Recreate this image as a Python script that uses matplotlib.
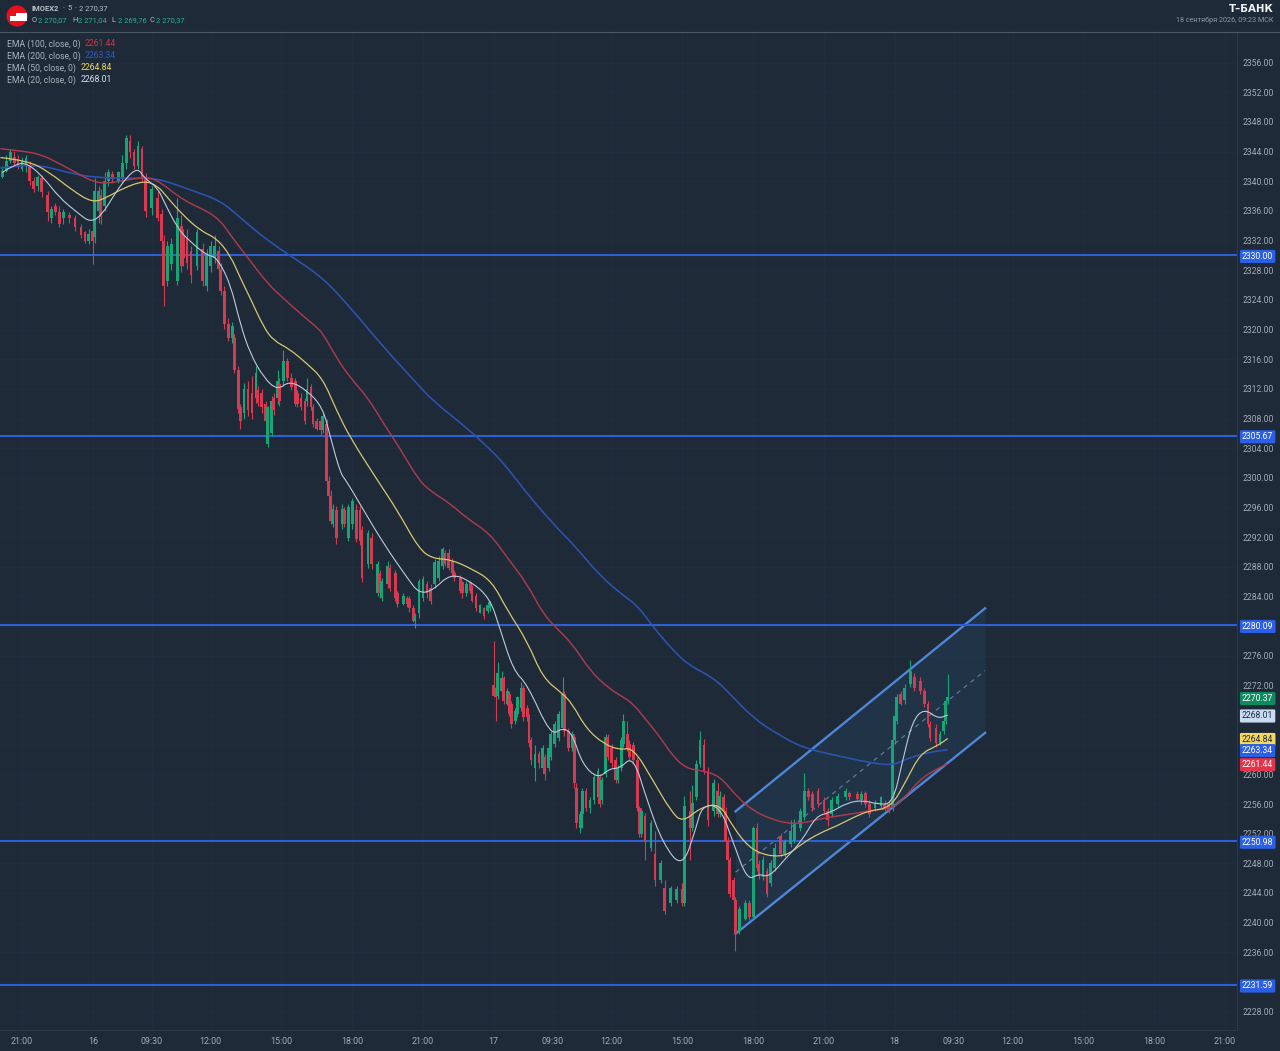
import matplotlib
matplotlib.use("Agg")
import matplotlib.pyplot as plt
from matplotlib.patches import Circle, Polygon, PathPatch
from matplotlib.path import Path

plt.rcParams['font.family'] = ['Roboto', 'DejaVu Sans']

# ---------- data ----------
bar = [-10,-8,-6,-4,-2,0,2,4,6,8,
10,13,15,17,19,21,24,27,30,32,
34,36,37,39,40,42,44,46,49,51,
53,55,57,59,61,63,66,69,71,72,
74,76,79,81,82,84,86,89,92,94,
96,98,100,101,103,105,107,108,110,111,
113,115,117,119,120,122,124,125,127,128,
130,131,133,135,137,139,140,142,144,145,
147,148,150,152,153,155,156,157,158,160,
163,164,166,168,170,172,173,176,178,181,
182,183,186,187,190,191,194,196,197,199,
200,202,204,206,208,210,212,214,215,217,
219,220,223,224,226,228,229,231,233,235,
237,238,240,241,242,244,245,247,248,249,
251,252,254,255,257,258,259,261,263,265,
266,268,269,271,273,275,276,278,280,281,
282,284,285,287,289,291,293,294,295,297,
298,300,302,303,305,306,308,309,311,313,
314,315,317,320,322,325,327,330,333,336,
337,340,341,343,345,347,349,352,354,355,
357,358,359,360,362,363,365,368,370,372,
374,375,377,379,381,383,386,388,391,393,
396,398,400,402,405,408,410,412,415,419,
421,425,427,429,431,434,437,439,441,443,
444,445,447,449,452,454,457,459,461,462,
465,467,469,470,471]

opens = [2340.6,2341.4,2342.8,2343.3,2343.0,2341.7,2342.1,2342.1,2340.1,2339.3,
2340.4,2338.1,2335.0,2336.7,2335.8,2335.0,2335.5,2335.0,2333.9,2333.1,
2332.0,2333.3,2332.5,2336.0,2338.1,2336.6,2340.1,2341.0,2340.1,2340.3,
2342.4,2345.5,2343.9,2342.1,2344.4,2340.6,2336.4,2337.8,2335.6,2332.0,
2326.6,2328.9,2326.6,2334.0,2332.7,2332.3,2330.6,2328.6,2330.9,2325.9,
2328.6,2329.6,2330.6,2328.2,2325.2,2320.8,2318.8,2318.9,2314.5,2309.5,
2308.8,2312.0,2311.4,2310.7,2311.8,2311.4,2310.0,2304.6,2306.0,2310.8,
2310.8,2312.7,2313.1,2315.8,2313.5,2313.1,2311.4,2310.8,2310.4,2310.4,
2312.2,2309.5,2307.7,2307.7,2306.4,2307.3,2299.6,2297.6,2293.8,2295.6,
2293.8,2295.6,2291.9,2293.8,2295.6,2295.6,2292.9,2288.4,2291.9,2284.5,
2287.1,2283.8,2285.7,2287.9,2287.1,2284.4,2283.0,2283.8,2283.7,2282.5,
2280.7,2281.7,2283.8,2285.7,2285.2,2285.7,2286.5,2288.1,2289.8,2289.9,
2288.8,2287.2,2286.5,2285.9,2284.5,2285.9,2285.2,2284.1,2281.8,2282.4,
2282.1,2282.4,2272.0,2271.7,2270.6,2271.3,2273.0,2269.5,2270.9,2269.5,
2267.2,2268.2,2269.0,2271.7,2269.0,2267.7,2264.6,2260.9,2262.8,2260.9,
2262.3,2260.9,2262.3,2264.1,2264.9,2266.3,2270.9,2265.9,2263.6,2265.0,
2258.2,2252.8,2254.7,2257.8,2255.5,2256.5,2256.9,2259.6,2256.5,2260.1,
2265.0,2263.6,2261.9,2259.2,2260.9,2264.1,2265.5,2264.1,2263.9,2261.9,
2255.5,2252.0,2254.4,2250.1,2249.3,2245.7,2244.7,2242.6,2243.0,2244.6,
2242.6,2255.1,2252.8,2256.9,2261.4,2263.9,2260.5,2255.1,2257.8,2254.7,
2256.9,2255.1,2251.0,2248.4,2245.7,2243.0,2238.9,2240.5,2242.6,2240.7,
2252.8,2247.9,2246.1,2247.0,2245.3,2247.4,2251.7,2249.3,2250.6,2251.0,
2252.8,2254.2,2257.8,2257.4,2257.8,2256.5,2255.1,2254.7,2256.0,2256.9,
2257.5,2257.4,2256.5,2257.5,2256.0,2255.4,2255.8,2256.0,2256.0,2255.5,
2264.6,2267.2,2270.9,2270.0,2272.2,2273.1,2272.6,2271.3,2269.5,2266.8,
2266.3,2264.2,2265.9,2267.2,2269.9]

closes = [2341.4,2342.8,2343.9,2342.5,2342.0,2342.8,2343.2,2340.1,2339.0,2340.6,
2338.5,2335.8,2336.3,2335.8,2334.2,2335.8,2335.0,2333.9,2332.7,2332.0,
2332.9,2332.0,2338.7,2338.7,2335.2,2340.1,2341.2,2340.3,2341.2,2342.4,
2345.9,2343.9,2342.1,2344.8,2340.6,2336.0,2339.0,2335.1,2332.0,2325.9,
2331.3,2331.6,2335.0,2328.6,2329.6,2329.0,2327.3,2333.1,2326.6,2330.2,
2331.3,2331.3,2328.2,2325.2,2320.8,2318.9,2320.5,2314.5,2309.3,2307.7,
2312.0,2309.1,2308.7,2314.1,2310.1,2309.5,2307.7,2309.5,2310.4,2309.1,
2313.1,2310.4,2315.8,2313.5,2312.2,2310.0,2310.0,2309.5,2307.7,2312.0,
2309.5,2307.3,2306.6,2306.4,2308.4,2299.6,2297.6,2294.2,2295.8,2291.9,
2295.8,2293.8,2296.0,2296.9,2291.8,2291.5,2286.5,2292.5,2288.4,2288.4,
2284.4,2286.1,2288.1,2285.2,2283.8,2283.0,2284.1,2283.0,2282.4,2280.7,
2281.4,2286.1,2286.4,2284.4,2283.4,2288.6,2288.8,2290.4,2288.4,2287.9,
2287.1,2286.5,2284.8,2284.4,2285.7,2284.8,2283.4,2282.4,2282.8,2281.4,
2282.8,2283.2,2270.6,2270.4,2273.7,2273.0,2269.9,2271.3,2268.2,2266.8,
2268.6,2270.4,2271.7,2267.7,2267.7,2264.2,2261.9,2262.8,2261.5,2263.6,
2260.1,2263.6,2265.5,2266.8,2268.2,2270.9,2265.9,2263.6,2265.5,2258.8,
2253.4,2254.7,2257.8,2255.5,2256.5,2259.6,2260.5,2256.0,2259.2,2265.0,
2262.3,2261.5,2259.2,2260.9,2264.6,2267.2,2263.6,2262.3,2261.9,2255.5,
2252.0,2255.1,2251.0,2253.4,2245.7,2248.0,2241.6,2244.7,2244.6,2242.6,
2255.8,2252.8,2256.1,2261.4,2264.6,2260.5,2253.8,2258.8,2254.7,2257.1,
2255.1,2251.0,2248.4,2243.9,2243.0,2238.5,2241.9,2242.7,2240.7,2252.8,
2247.4,2246.3,2248.4,2243.9,2248.0,2250.1,2249.3,2251.0,2252.4,2253.4,
2255.1,2257.8,2256.9,2255.5,2256.0,2255.1,2253.8,2256.5,2257.1,2257.8,
2256.9,2256.7,2257.4,2256.0,2254.7,2256.2,2256.9,2255.4,2255.1,2264.6,
2267.9,2270.4,2269.5,2271.7,2274.0,2271.7,2271.3,2269.5,2266.8,2264.9,
2264.2,2265.5,2267.2,2269.9,2270.37]

highs = [2342.1,2343.5,2344.4,2344.1,2343.6,2343.3,2343.5,2342.8,2340.6,2340.8,
2340.8,2338.7,2336.7,2337.1,2336.7,2336.3,2335.8,2335.4,2334.2,2333.3,
2333.6,2334.0,2340.5,2339.4,2339.0,2341.2,2341.7,2341.4,2341.4,2343.5,
2346.3,2346.2,2344.4,2345.5,2344.8,2341.1,2339.4,2338.7,2336.3,2332.7,
2332.0,2332.3,2337.8,2335.4,2333.6,2333.6,2331.3,2333.6,2331.7,2330.9,
2332.0,2332.7,2331.3,2329.0,2325.9,2321.5,2321.0,2319.4,2315.1,2310.0,
2312.8,2313.1,2313.8,2315.1,2312.4,2312.0,2310.4,2309.7,2311.1,2311.5,
2314.5,2313.4,2317.2,2316.2,2314.2,2313.5,2311.8,2311.4,2310.8,2313.4,
2312.7,2310.0,2308.1,2308.3,2308.8,2308.0,2300.2,2298.3,2296.5,2296.2,
2296.5,2296.0,2296.5,2297.3,2296.5,2296.2,2293.5,2292.9,2292.6,2288.8,
2287.5,2286.5,2288.8,2288.4,2287.5,2284.8,2284.4,2284.1,2284.0,2282.9,
2281.8,2286.4,2286.8,2286.1,2285.7,2289.1,2289.5,2290.7,2290.2,2290.4,
2289.2,2287.5,2286.9,2286.1,2286.1,2286.1,2285.5,2284.5,2283.0,2282.6,
2283.0,2283.4,2278.0,2272.0,2275.1,2274.0,2273.3,2271.6,2271.3,2269.9,
2268.9,2270.6,2272.4,2272.1,2269.3,2268.1,2265.0,2263.9,2263.2,2263.9,
2262.7,2264.1,2265.9,2267.2,2268.6,2273.1,2271.3,2266.3,2265.9,2265.4,
2258.8,2255.1,2258.1,2258.2,2256.9,2260.1,2260.9,2260.1,2259.6,2265.5,
2265.5,2264.1,2262.3,2261.2,2265.0,2268.2,2267.2,2264.6,2264.3,2262.3,
2255.8,2255.5,2254.8,2253.8,2252.4,2248.4,2245.7,2245.0,2244.9,2245.4,
2257.1,2257.8,2258.5,2261.9,2265.9,2264.8,2261.0,2259.4,2258.8,2257.8,
2257.4,2255.6,2251.5,2248.8,2246.1,2243.4,2242.3,2243.0,2243.0,2253.1,
2253.4,2248.4,2249.0,2247.4,2248.4,2250.7,2252.1,2251.3,2253.8,2254.0,
2255.5,2260.2,2258.2,2257.8,2258.1,2256.9,2255.5,2256.9,2257.5,2258.1,
2257.8,2257.8,2257.8,2257.8,2256.5,2256.5,2257.1,2256.5,2256.5,2265.2,
2268.3,2270.9,2271.3,2272.2,2275.4,2273.7,2273.1,2271.7,2269.9,2267.2,
2266.8,2265.9,2267.5,2270.3,2273.6]

lows = [2340.4,2341.2,2342.4,2342.1,2341.7,2341.4,2341.2,2339.5,2338.5,2338.7,
2337.9,2334.7,2334.4,2335.4,2333.9,2334.2,2334.4,2333.3,2332.3,2331.7,
2331.6,2328.9,2331.7,2334.4,2334.2,2336.0,2339.3,2339.8,2339.8,2339.8,
2341.7,2343.1,2341.7,2341.7,2340.1,2335.2,2335.4,2334.7,2330.0,2323.2,
2325.9,2328.0,2326.0,2327.7,2328.6,2328.2,2326.3,2328.0,2325.9,2325.2,
2327.7,2329.0,2327.3,2324.6,2320.1,2318.5,2318.2,2314.1,2308.8,2306.6,
2308.0,2308.4,2308.0,2310.1,2309.7,2308.8,2307.0,2304.2,2305.6,2308.5,
2310.0,2309.7,2312.4,2313.1,2311.8,2309.7,2309.6,2309.1,2307.3,2309.7,
2309.1,2306.9,2306.4,2305.8,2306.0,2299.1,2296.9,2293.8,2293.3,2291.1,
2293.1,2293.3,2291.5,2293.1,2291.3,2290.9,2285.9,2287.9,2287.7,2284.0,
2283.8,2283.4,2285.2,2284.8,2283.4,2282.6,2282.8,2282.6,2281.9,2280.5,
2279.8,2281.1,2283.4,2283.8,2283.0,2285.2,2286.1,2287.7,2288.1,2287.5,
2286.7,2286.1,2284.4,2283.8,2284.1,2284.5,2283.2,2282.1,2281.7,2281.0,
2281.8,2282.1,2270.4,2267.2,2270.2,2271.0,2269.5,2269.3,2267.9,2266.3,
2266.8,2267.8,2268.6,2267.2,2267.2,2263.7,2261.2,2259.1,2260.8,2260.5,
2259.2,2260.5,2261.9,2263.7,2264.5,2265.9,2265.2,2263.2,2263.2,2258.2,
2252.8,2252.1,2252.8,2255.1,2254.8,2256.0,2256.5,2255.6,2256.0,2259.7,
2261.9,2261.0,2258.8,2258.8,2260.5,2263.7,2263.2,2261.9,2261.4,2255.1,
2251.6,2251.6,2248.4,2249.7,2245.0,2245.3,2241.2,2242.3,2242.6,2242.3,
2242.3,2248.4,2252.4,2256.5,2261.0,2260.1,2253.1,2254.4,2254.2,2254.3,
2254.8,2250.7,2247.9,2243.4,2242.6,2236.2,2238.5,2240.3,2240.3,2240.3,
2247.0,2245.9,2245.7,2243.5,2244.9,2247.0,2248.9,2248.9,2250.2,2250.7,
2252.4,2253.8,2256.5,2255.1,2255.6,2254.7,2253.1,2254.3,2255.6,2256.5,
2256.5,2256.5,2256.0,2255.6,2254.2,2255.1,2255.5,2255.1,2254.8,2255.1,
2264.1,2266.8,2269.3,2269.5,2271.8,2271.3,2270.9,2269.1,2266.4,2264.5,
2263.7,2263.9,2265.5,2266.8,2269.5]

ema100_bar = [-11,-1,9,19,30,36,42,50,60,68,82,99,107,116,125,133,141,150,153,160,167,176,184,192,202,209,218,226,238,247,257,265,272,280,289,298,306,311,318,325,331,338,346,355,364,372,381,389,397,406,415,423,431,442,448,457,466,471]
ema100_val = [2344.4,2344.1,2343.7,2342.4,2340.8,2340,2339.7,2340,2340.5,2340.4,2337.4,2335.4,2332.4,2329.3,2326.2,2324.2,2322.3,2320.3,2319.5,2316.2,2313.5,2310.8,2307.3,2304.1,2299.6,2298,2296.5,2294.6,2292.5,2289.2,2285.7,2281.7,2279.7,2277.6,2274,2271.7,2270.4,2269.5,2267.2,2264.9,2262.5,2260.8,2260.5,2259.8,2256.9,2255.1,2254,2253.4,2253.4,2254,2254.4,2254.7,2255.1,2255.4,2256.5,2259.4,2260.8,2261.44]

ema200_bar = [-11,6,23,36,56,69,84,101,111,125,138,153,167,184,201,209,226,235,243,252,260,272,282,294,306,313,320,327,338,352,360,372,384,397,415,431,443,450,460,471]
ema200_val = [2341.8,2342.4,2341.2,2340.5,2340.4,2340.4,2339,2337.4,2335.1,2332,2329.7,2327,2323,2317.6,2312.7,2310.4,2306.8,2304.6,2302.6,2299.6,2296.9,2293.3,2290.6,2286.8,2284.1,2282.8,2280.3,2278,2274.9,2273,2270.9,2267.6,2265.5,2263.6,2262.5,2261.6,2261.2,2262.1,2262.9,2263.34]

ema50_bar = [-11,3,14,26,36,43,51,62,69,74,82,91,99,106,111,116,123,128,136,145,153,160,167,181,191,202,209,218,229,239,247,257,265,275,280,287,296,304,311,321,330,336,345,355,362,370,379,389,397,406,415,423,431,442,450,457,466,471]
ema50_val = [2343.2,2342.8,2341.2,2338.7,2337.1,2337.8,2339,2340.1,2339.4,2337.8,2335.4,2333.3,2332.3,2330,2327,2324.3,2320.3,2318.5,2317.4,2315.4,2313.4,2309.1,2305.4,2299.6,2295.6,2290.4,2289.1,2289,2287.7,2286.1,2282.1,2278,2273,2270.9,2269.5,2266.2,2264.1,2263.3,2263.6,2259.2,2255.1,2253.5,2255.5,2256.1,2252.8,2250.1,2249,2249,2250.7,2252.1,2253.1,2254.2,2255.1,2255.5,2259.2,2262.8,2263.9,2264.84]

ema20_bar = [-10,-3,3,11,19,28,35,41,46,53,59,62,69,72,79,85,94,99,106,111,116,123,130,136,145,153,157,162,165,173,184,196,202,209,218,228,238,243,250,257,269,275,280,285,293,299,304,311,318,326,336,343,346,355,362,369,375,380,389,397,404,411,420,428,435,443,448,453,459,466,471]
ema20_val = [2341.2,2342.4,2342.4,2340.5,2337.8,2335.8,2334.4,2335.6,2337.8,2340.5,2341.8,2340.5,2339.1,2337.4,2333.7,2332,2330,2329.8,2326.2,2320.8,2316.8,2313.5,2311.8,2313.1,2311.8,2309.5,2305.4,2300.6,2299.6,2296,2291.1,2286.5,2284.4,2284.8,2287.1,2286.1,2283.8,2279.8,2274,2272.2,2265.2,2266.3,2265.5,2261.4,2259.4,2260.8,2260.8,2262.5,2256.5,2250.7,2247.3,2252.8,2255.8,2255.8,2250.7,2245.7,2246.6,2246.1,2248.8,2251.1,2254.4,2254.8,2256.2,2256.5,2256,2256,2261.8,2267.2,2268.9,2267.5,2268.01]

levels = [2330.00, 2305.67, 2280.09, 2250.98, 2231.59]

channel_bar = [363, 490]
channel_low = [2238.5, 2265.6]
channel_mid = [2246.8, 2274.0]
channel_up = [2255.0, 2282.4]

xtick_bar = [0,36,66,96,132,168,204,240,270,300,336,372,408,444,474,504,540,576,612]
xtick_lab = ['21:00','16','09:30','12:00','15:00','18:00','21:00','17','09:30','12:00','15:00','18:00','21:00','18','09:30','12:00','15:00','18:00','21:00']
ytick_val = list(range(2228, 2357, 4))
ytick_hidden = [2232, 2264, 2268, 2280]

legend_names = ['EMA (100, close, 0)', 'EMA (200, close, 0)', 'EMA (50, close, 0)', 'EMA (20, close, 0)']
legend_vals = ['2261.44', '2263.34', '2264.84', '2268.01']

# ---------- styling ----------
BG = '#1e2a38'
GRID = '#222f3e'
TXT = '#a3acb6'
UP = '#17a578'
DOWN = '#d63a50'
C100, C200, C50, C20 = '#ad3a4c', '#2b54b0', '#d9c66e', '#bccbdc'
LEVEL = '#2f5fd6'
CHAN = '#4f86d6'

W, H = 1280, 1051
fig = plt.figure(figsize=(W / 100, H / 100), dpi=100, facecolor=BG)
ax = fig.add_axes([0, 1 - 1030 / H, 1237 / W, 999 / H], facecolor=BG)
ax.set_xlim(-11.19, 618.16)
ax.set_ylim(2225.52, 2360.27)

for s in ax.spines.values():
    s.set_visible(False)
for side in ('right', 'bottom'):
    ax.spines[side].set_visible(True)
    ax.spines[side].set_color('#2c3947')
    ax.spines[side].set_linewidth(0.8)

ax.yaxis.tick_right()
ax.set_yticks(ytick_val)
ax.set_yticklabels(['' if v in ytick_hidden else f'{v:.2f}' for v in ytick_val], fontsize=6.2, color=TXT)
ax.set_xticks(xtick_bar)
ax.set_xticklabels(xtick_lab, fontsize=6.4, color=TXT)
ax.tick_params(axis='both', length=0)
ax.tick_params(axis='y', pad=4)
ax.tick_params(axis='x', pad=5)
ax.grid(True, color=GRID, lw=0.5, zorder=0)
ax.set_axisbelow(True)

# channel
ax.fill_between(channel_bar, channel_low, channel_up, color='#3a6aa5', alpha=0.14, lw=0, zorder=1)
ax.plot(channel_bar, channel_low, color=CHAN, lw=1.7, zorder=2)
ax.plot(channel_bar, channel_up, color=CHAN, lw=1.7, zorder=2)
ax.plot(channel_bar, channel_mid, color='#64809f', lw=0.8, ls=(0, (4, 4)), zorder=2)

# levels
for v in levels:
    ax.axhline(v, color=LEVEL, lw=1.5, zorder=2)

# candles
colors = [UP if c >= o else DOWN for o, c in zip(opens, closes)]
ax.vlines(bar, lows, highs, colors=colors, lw=0.8, zorder=3)
ax.bar(bar, [abs(c - o) for o, c in zip(opens, closes)],
       bottom=[min(o, c) for o, c in zip(opens, closes)],
       width=1.4, color=colors, lw=0, zorder=3)


def ema_curve(xs, ys, color, lw, z):
    """Draw a series as a rounded curve whose control points are the read values."""
    pts = list(zip(xs, ys))
    verts = [pts[0]]
    codes = [Path.MOVETO]
    for i in range(1, len(pts) - 1):
        mid = ((pts[i][0] + pts[i + 1][0]) / 2, (pts[i][1] + pts[i + 1][1]) / 2)
        verts += [pts[i], mid]
        codes += [Path.CURVE3, Path.CURVE3]
    verts.append(pts[-1])
    codes.append(Path.LINETO)
    ax.add_patch(PathPatch(Path(verts, codes), fill=False, edgecolor=color, lw=lw, zorder=z))


ema_curve(ema200_bar, ema200_val, C200, 1.15, 4)
ema_curve(ema100_bar, ema100_val, C100, 1.05, 4)
ema_curve(ema50_bar, ema50_val, C50, 0.9, 4)
ema_curve(ema20_bar, ema20_val, C20, 0.8, 5)


def badge(value, face, fg='white', z=20):
    ax.annotate(f'{value:.2f}', xy=(1.0, value), xycoords=('axes fraction', 'data'),
                xytext=(5, 0), textcoords='offset pixels', ha='left', va='center_baseline',
                fontsize=6.2, color=fg, zorder=z, annotation_clip=False,
                bbox=dict(boxstyle='round,pad=0.24,rounding_size=0.15', fc=face, ec='none'))


for v in levels:
    badge(v, '#2a5fe6')
badge(2261.44, '#e2344b')
badge(2264.84, '#f3d75e', '#1e2a38')
badge(2263.34, '#2a5fe6', z=21)
badge(2268.01, '#c9daf3', '#1e2a38')
badge(2270.37, '#0f8a5f')

# ---------- header chrome ----------
ch = fig.add_axes([0, 0, 1, 1], facecolor='none', zorder=10)
ch.set_xlim(0, W)
ch.set_ylim(H, 0)
ch.axis('off')
ch.axhline(31.5, color='#4b5762', lw=0.8)
ch.add_patch(Circle((17, 16), 10.5, color='#e80f1e', lw=0))
ch.add_patch(Polygon([(10, 21), (10, 16), (16, 16), (16, 13), (27, 13), (27, 21)], color='white', lw=0))

HEAD = '#b8c0c9'
GREEN = '#26b58a'
ch.text(32, 9, 'IMOEX2', color=HEAD, fontsize=5.4, fontweight='bold', va='center')
ch.text(62, 9, '·', color=HEAD, fontsize=5.4, va='center')
ch.text(67, 9, '5', color=HEAD, fontsize=5.4, va='center')
ch.text(74, 9, '·', color=HEAD, fontsize=5.4, va='center')
ch.text(79, 9, '2 270,37', color=HEAD, fontsize=5.4, va='center')
for xl, lab, val in [(32, 'O', '2 270,07'), (72, 'H', '2 271,04'), (111, 'L', '2 269,76'), (149, 'C', '2 270,37')]:
    ch.text(xl, 20.5, lab, color=HEAD, fontsize=5.4, va='center')
    ch.text(xl + 6.5, 20.5, val, color=GREEN, fontsize=5.4, va='center')

for y, name, val, col, vx in zip([44, 56, 68, 80], legend_names, legend_vals,
                                 ['#c9374c', '#2d58c4', '#f0d964', '#d5e2f2'], [85, 85, 81, 81]):
    ch.text(7, y, name, color='#aab3bc', fontsize=6.2, va='center')
    ch.text(vx, y, val, color=col, fontsize=6.2, va='center')

ch.text(1274, 9, 'Т–БАНК', color='#eef1f4', fontsize=7.4, fontweight='bold', family='DejaVu Sans', ha='right', va='center')
ch.text(1274, 20.5, '18 сентября 2026, 09:23 МСК', color='#8e98a3', fontsize=5.2, ha='right', va='center')

fig.savefig('out.png', dpi=100, facecolor=BG)
